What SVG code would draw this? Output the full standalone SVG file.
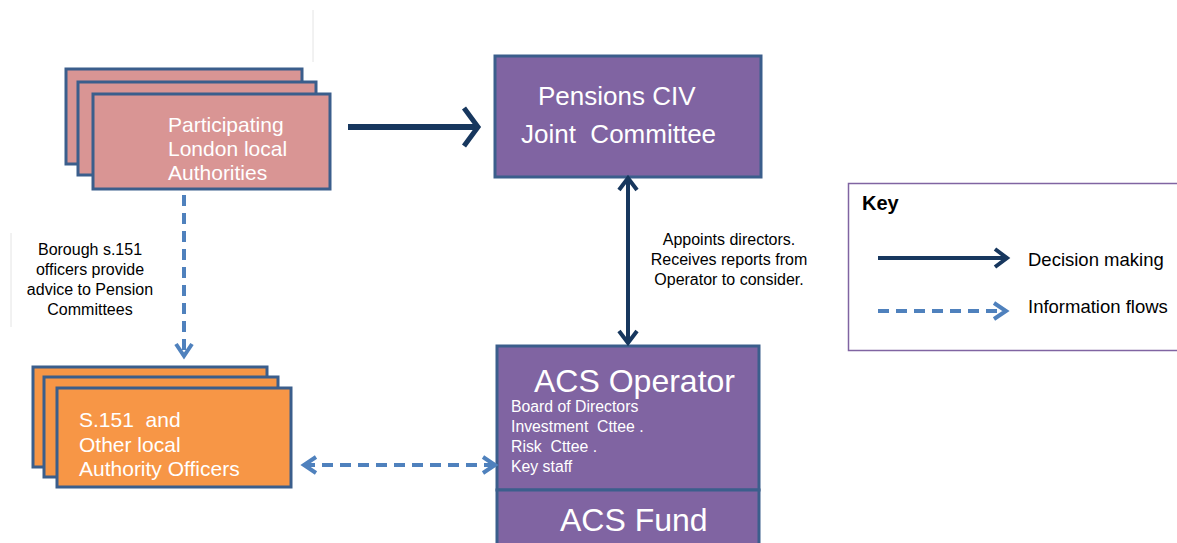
<svg xmlns="http://www.w3.org/2000/svg" width="1177" height="543" viewBox="0 0 1177 543">
  <style>
    .la { fill: #D99594; stroke: #3B5E8C; stroke-width: 3; }
    .off { fill: #F79646; stroke: #3B5E8C; stroke-width: 3; }
    .civ { fill: #8064A2; stroke: #3B5E8C; stroke-width: 3; }
    .t { font-family: "Liberation Sans", Arial, sans-serif; }
    .w { fill: #FFFFFF; }
    .k { fill: #000000; }
    .dec { fill: none; stroke: #17375E; }
    .info { fill: none; stroke: #4F81BD; stroke-width: 4; stroke-dasharray: 11 7; }
    .rule { stroke: #E4E4E4; stroke-width: 1; }
  </style>
  <defs>
    <marker id="decBig" markerUnits="userSpaceOnUse" viewBox="-20 -25 30 50" refX="0" refY="0" markerWidth="30" markerHeight="50" orient="auto-start-reverse" overflow="visible">
      <path d="M-14,-19 L0,0 L-14,19" fill="none" stroke="#17375E" stroke-width="5"/>
    </marker>
    <marker id="decSm" markerUnits="userSpaceOnUse" viewBox="-20 -15 30 30" refX="0" refY="0" markerWidth="30" markerHeight="30" orient="auto-start-reverse" overflow="visible">
      <path d="M-12,-9 L0,0 L-12,9" fill="none" stroke="#17375E" stroke-width="4"/>
    </marker>
    <marker id="infoHead" markerUnits="userSpaceOnUse" viewBox="-20 -15 30 30" refX="0" refY="0" markerWidth="30" markerHeight="30" orient="auto-start-reverse" overflow="visible">
      <path d="M-12,-8 L0,0 L-12,8" fill="none" stroke="#4F81BD" stroke-width="4"/>
    </marker>
  </defs>

  <rect width="1177" height="543" fill="#FFFFFF"/>

  <!-- faint guide rules -->
  <line class="rule" x1="313" y1="10" x2="313" y2="62"/>
  <line class="rule" x1="11" y1="233" x2="11" y2="327"/>

  <!-- Participating London local Authorities (stacked) -->
  <g id="node-authorities">
    <rect class="la" x="66" y="69" width="236" height="95"/>
    <rect class="la" x="78" y="82" width="238" height="93"/>
    <rect class="la" x="93" y="94" width="237" height="95"/>
    <text class="t w" font-size="21" x="168" y="132">Participating</text>
    <text class="t w" font-size="21" x="168" y="156">London local</text>
    <text class="t w" font-size="21" x="168" y="180">Authorities</text>
  </g>

  <!-- S.151 and other officers (stacked) -->
  <g id="node-officers">
    <rect class="off" x="33" y="367" width="234" height="100"/>
    <rect class="off" x="44" y="377" width="234" height="100"/>
    <rect class="off" x="57" y="388" width="234" height="99"/>
    <text class="t w" font-size="21" x="79" y="427" xml:space="preserve">S.151  and</text>
    <text class="t w" font-size="21" x="79" y="452">Other local</text>
    <text class="t w" font-size="21" x="79" y="476">Authority Officers</text>
  </g>

  <!-- Pensions CIV Joint Committee -->
  <g id="node-joint-committee">
    <rect class="civ" x="495" y="56" width="266" height="121"/>
    <text class="t w" font-size="26" x="538" y="105">Pensions CIV</text>
    <text class="t w" font-size="26" x="521" y="143" xml:space="preserve">Joint  Committee</text>
  </g>

  <!-- ACS Operator -->
  <g id="node-acs-operator">
    <rect class="civ" x="497" y="346" width="262" height="144"/>
    <text class="t w" font-size="32" x="534" y="392">ACS Operator</text>
    <text class="t w" font-size="15.8" x="511" y="412">Board of Directors</text>
    <text class="t w" font-size="15.8" x="511" y="432" xml:space="preserve">Investment  Cttee .</text>
    <text class="t w" font-size="15.8" x="511" y="452" xml:space="preserve">Risk  Cttee .</text>
    <text class="t w" font-size="15.8" x="511" y="472">Key staff</text>
  </g>

  <!-- ACS Fund -->
  <g id="node-acs-fund">
    <rect class="civ" x="497" y="490" width="262" height="60"/>
    <text class="t w" font-size="32" x="560" y="531">ACS Fund</text>
  </g>

  <!-- connectors -->
  <g id="connectors">
    <line class="dec" stroke-width="6" x1="348" y1="127" x2="478" y2="127" marker-end="url(#decBig)"/>
    <line class="dec" stroke-width="4" x1="628" y1="178" x2="628" y2="343" marker-start="url(#decSm)" marker-end="url(#decSm)"/>
    <line class="info" x1="184" y1="195" x2="184" y2="356" marker-end="url(#infoHead)"/>
    <line class="info" x1="304" y1="465" x2="495" y2="465" marker-start="url(#infoHead)" marker-end="url(#infoHead)"/>
  </g>

  <!-- connector labels -->
  <g id="labels">
    <text class="t k" font-size="16" text-anchor="middle" x="90" y="255">Borough s.151</text>
    <text class="t k" font-size="16" text-anchor="middle" x="90" y="275">officers provide</text>
    <text class="t k" font-size="16" text-anchor="middle" x="90" y="295">advice to Pension</text>
    <text class="t k" font-size="16" text-anchor="middle" x="90" y="315">Committees</text>
    <text class="t k" font-size="16" text-anchor="middle" x="729" y="245">Appoints directors.</text>
    <text class="t k" font-size="16" text-anchor="middle" x="729" y="265">Receives reports from</text>
    <text class="t k" font-size="16" text-anchor="middle" x="729" y="285">Operator to consider.</text>
  </g>

  <!-- Key -->
  <g id="key">
    <rect x="848.5" y="183.5" width="340" height="167" fill="#FFFFFF" stroke="#8064A2" stroke-width="1.5"/>
    <text class="t k" font-size="20" font-weight="bold" x="862" y="210">Key</text>
    <line class="dec" stroke-width="4" x1="878" y1="258" x2="1007" y2="258" marker-end="url(#decSm)"/>
    <text class="t k" font-size="18.5" x="1028" y="266">Decision making</text>
    <line class="info" x1="878" y1="311" x2="1006" y2="311" marker-end="url(#infoHead)"/>
    <text class="t k" font-size="18.5" x="1028" y="313">Information flows</text>
  </g>
</svg>
